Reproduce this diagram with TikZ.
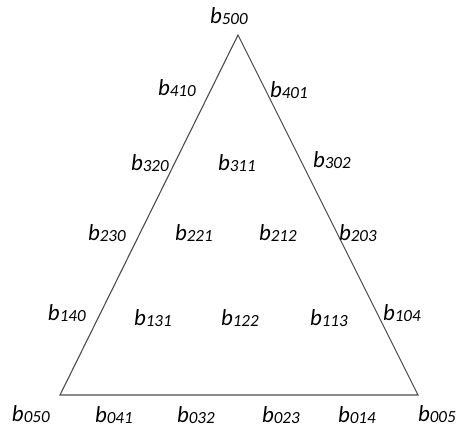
\documentclass[tikz,border=0pt]{standalone}
\usepackage{fontspec}
\setmainfont{Carlito}
\newcommand{\bl}[1]{\fontsize{23}{23}\selectfont\itshape b\raisebox{-1.5pt}{\fontsize{17}{17}\selectfont #1}}
\begin{document}
\begin{tikzpicture}[x=1pt,y=-1pt,
  lbl/.style={anchor=base west,inner sep=0pt,outer sep=0pt},
  edge/.style={draw=black!70,line width=1.1pt,line join=miter}]
\useasboundingbox (0,0) rectangle (456,432);
\coordinate (T) at (238,35);
\coordinate (L) at (60,395);
\coordinate (R) at (418,395);
\draw[edge] (T) -- (L) -- (R) -- cycle;
\node[lbl] (b500) at (210,23) {\bl{500}};
\node[lbl] (b410) at (158,95) {\bl{410}};
\node[lbl] (b401) at (270,97) {\bl{401}};
\node[lbl] (b320) at (131,170) {\bl{320}};
\node[lbl] (b311) at (218,170) {\bl{311}};
\node[lbl] (b302) at (313,167) {\bl{302}};
\node[lbl] (b230) at (88,240) {\bl{230}};
\node[lbl] (b221) at (175,240) {\bl{221}};
\node[lbl] (b212) at (259,240) {\bl{212}};
\node[lbl] (b203) at (339,240) {\bl{203}};
\node[lbl] (b140) at (48,320) {\bl{140}};
\node[lbl] (b131) at (134,325) {\bl{131}};
\node[lbl] (b122) at (221,325) {\bl{122}};
\node[lbl] (b113) at (310,325) {\bl{113}};
\node[lbl] (b104) at (383,320) {\bl{104}};
\node[lbl] (b050) at (12,421) {\bl{050}};
\node[lbl] (b041) at (95,422) {\bl{041}};
\node[lbl] (b032) at (177,422) {\bl{032}};
\node[lbl] (b023) at (262,422) {\bl{023}};
\node[lbl] (b014) at (338,422) {\bl{014}};
\node[lbl] (b005) at (418,421) {\bl{005}};
\end{tikzpicture}
\end{document}
